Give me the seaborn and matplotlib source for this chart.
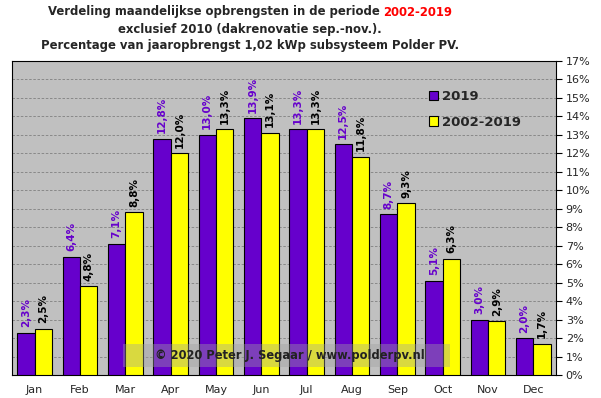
import matplotlib
matplotlib.use("Agg")
import matplotlib.pyplot as plt
import seaborn as sns
import pandas as pd
from matplotlib.ticker import MultipleLocator, FuncFormatter
from matplotlib.patches import Rectangle

months = ['Jan', 'Feb', 'Mar', 'Apr', 'May', 'Jun', 'Jul', 'Aug', 'Sep', 'Oct', 'Nov', 'Dec']
share_2019 = [2.3, 6.4, 7.1, 12.8, 13.0, 13.9, 13.3, 12.5, 8.7, 5.1, 3.0, 2.0]
share_avg = [2.5, 4.8, 8.8, 12.0, 13.3, 13.1, 13.3, 11.8, 9.3, 6.3, 2.9, 1.7]
series = ['2019', '2002-2019']

df = pd.DataFrame({
    'month': months * 2,
    'share': share_2019 + share_avg,
    'series': [series[0]] * 12 + [series[1]] * 12,
})

purple = '#6600CC'
yellow = '#FFFF00'

sns.set_style('white')
plt.rcParams['font.family'] = ['DejaVu Sans']

fig = plt.figure(figsize=(6.01, 3.98), dpi=100)
fig.patch.set_facecolor('white')
ax = fig.add_axes([12 / 601, 23 / 398, 544 / 601, 314 / 398])
ax.set_facecolor('#C0C0C0')

sns.barplot(data=df, x='month', y='share', hue='series', palette=[purple, yellow], saturation=1,
            width=0.77, gap=0, edgecolor='black', linewidth=0.8, ax=ax, zorder=3)

ax.set_ylim(0, 17)
ax.set_xlim(-0.5, 11.5)
ax.yaxis.set_major_locator(MultipleLocator(1))
ax.yaxis.set_major_formatter(FuncFormatter(lambda v, p: f'{v:.0f}%'))
ax.yaxis.tick_right()
ax.grid(axis='y', color='#808080', linestyle=(0, (3, 2)), linewidth=0.6, zorder=0)
ax.set_axisbelow(True)
ax.set_xlabel('')
ax.set_ylabel('')
ax.set_xticks(range(12))
ax.set_xticklabels(months)
ax.set_xticks([i + 0.5 for i in range(-1, 12)], minor=True)
ax.tick_params(axis='x', which='major', length=0, labelsize=8, pad=7)
ax.tick_params(axis='x', which='minor', length=5, width=0.8, color='black', direction='out')
ax.tick_params(axis='y', length=4, width=0.8, labelsize=8, pad=3, color='black', right=True)
for s in ax.spines.values():
    s.set_color('black')
    s.set_linewidth(0.8)

label_colors = [purple, 'black']
for cont, col in zip(ax.containers, label_colors):
    ax.bar_label(cont, labels=[f'{v:.1f}%'.replace('.', ',') for v in cont.datavalues],
                 rotation=90, padding=4, fontsize=7.5, fontweight='bold', color=col)

handles = [Rectangle((0, 0), 1, 1, facecolor=purple, edgecolor='black', linewidth=0.8),
           Rectangle((0, 0), 1, 1, facecolor=yellow, edgecolor='black', linewidth=0.8)]
ax.legend(handles, series, loc='upper left', bbox_to_anchor=(0.745, 0.945), frameon=False,
          handlelength=0.7, handleheight=0.7, handletextpad=0.3, labelspacing=0.95,
          prop={'weight': 'bold', 'size': 9.5})

# watermark
fig.patches.append(Rectangle((123 / 601, 31 / 398), 327 / 601, 23 / 398, transform=fig.transFigure,
                             facecolor='#a0a0a0', alpha=0.4, edgecolor='none', zorder=10))
fig.text(290 / 601, 42 / 398, '\u00a9 2020 Peter J. Segaar / www.polderpv.nl', ha='center', va='center',
         fontsize=8.3, fontweight='bold', color='#222222', zorder=11)

# title
tsize = 8.4
t1 = fig.text(250 / 601, 1 - 12 / 398, 'Verdeling maandelijkse opbrengsten in de periode ', ha='center',
              va='center', fontsize=tsize, fontweight='bold')
fig.canvas.draw()
bb = t1.get_window_extent()
red = fig.text(0, 0, '2002-2019', fontsize=tsize, fontweight='bold', color='red')
rb = red.get_window_extent()
x0 = 250 - (bb.width + rb.width) / 2
t1.set_ha('left')
t1.set_x(x0 / 601)
red.set_position(((x0 + bb.width) / 601, 1 - 12 / 398))
red.set_va('center')
fig.text(250 / 601, 1 - 29 / 398, 'exclusief 2010 (dakrenovatie sep.-nov.).', ha='center', va='center',
         fontsize=tsize, fontweight='bold')
fig.text(250 / 601, 1 - 45 / 398, 'Percentage van jaaropbrengst 1,02 kWp subsysteem Polder PV.', ha='center',
         va='center', fontsize=tsize, fontweight='bold')

fig.savefig('out.png', dpi=100)
